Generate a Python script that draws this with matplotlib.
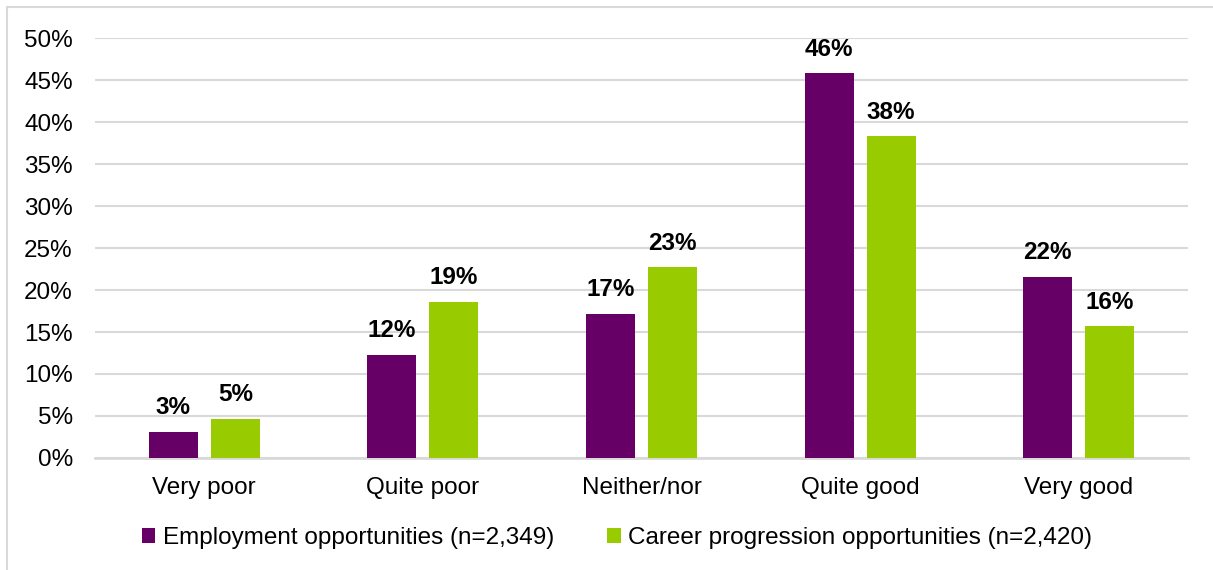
import matplotlib.pyplot as plt
import numpy as np
from matplotlib.patches import Rectangle

plt.rcParams['font.family'] = ['Liberation Sans', 'DejaVu Sans']

categories = ['Very poor', 'Quite poor', 'Neither/nor', 'Quite good', 'Very good']
employment = [3.1, 12.3, 17.2, 45.8, 21.6]
career = [4.7, 18.6, 22.7, 38.3, 15.7]
employment_labels = ['3%', '12%', '17%', '46%', '22%']
career_labels = ['5%', '19%', '23%', '38%', '16%']
series_names = ['Employment opportunities (n=2,349)',
                'Career progression opportunities (n=2,420)']

purple = '#660066'
green = '#99cc00'
fs = 17.5

fig = plt.figure(figsize=(12.13, 5.70), dpi=100)
ax = fig.add_axes([0.0783, 0.1965, 0.9011, 0.7368])

x = np.arange(len(categories))
w = 0.224
off = 0.142
b1 = ax.bar(x - off, employment, w, color=purple, label=series_names[0], zorder=3)
b2 = ax.bar(x + off, career, w, color=green, label=series_names[1], zorder=3)

for bars, labs in [(b1, employment_labels), (b2, career_labels)]:
    for bar, lab in zip(bars, labs):
        ax.annotate(lab, (bar.get_x() + bar.get_width() / 2, bar.get_height()),
                    xytext=(0, 9), textcoords='offset points', ha='center', va='bottom',
                    fontsize=fs, fontweight='bold', color='black')

ax.set_xlim(-0.5, len(categories) - 0.5)
ax.set_ylim(0, 50)
ax.set_yticks(np.arange(0, 51, 5))
ax.set_yticklabels([f'{v}%' for v in range(0, 51, 5)], fontsize=fs)
ax.set_xticks(x)
ax.set_xticklabels(categories, fontsize=fs)
ax.tick_params(axis='both', length=0)
ax.tick_params(axis='y', pad=16)
ax.tick_params(axis='x', pad=14)
ax.grid(axis='y', color='#d9d9d9', linewidth=1.5, zorder=0)
for s in ['top', 'right', 'left']:
    ax.spines[s].set_visible(False)
ax.spines['bottom'].set_color('#d9d9d9')
ax.spines['bottom'].set_linewidth(2)

ax.legend(loc='center', bbox_to_anchor=(0.4776, -0.19), ncol=2, frameon=False,
          fontsize=fs, handlelength=0.55, handleheight=0.55, handletextpad=0.3,
          columnspacing=2.2)

fig.patches.append(Rectangle((7 / 1213, -0.1), 1.2, 1 - 7 / 570 + 0.1,
                             transform=fig.transFigure, fill=False,
                             edgecolor='#d9d9d9', linewidth=1.5))

fig.savefig('out.png', dpi=100)
